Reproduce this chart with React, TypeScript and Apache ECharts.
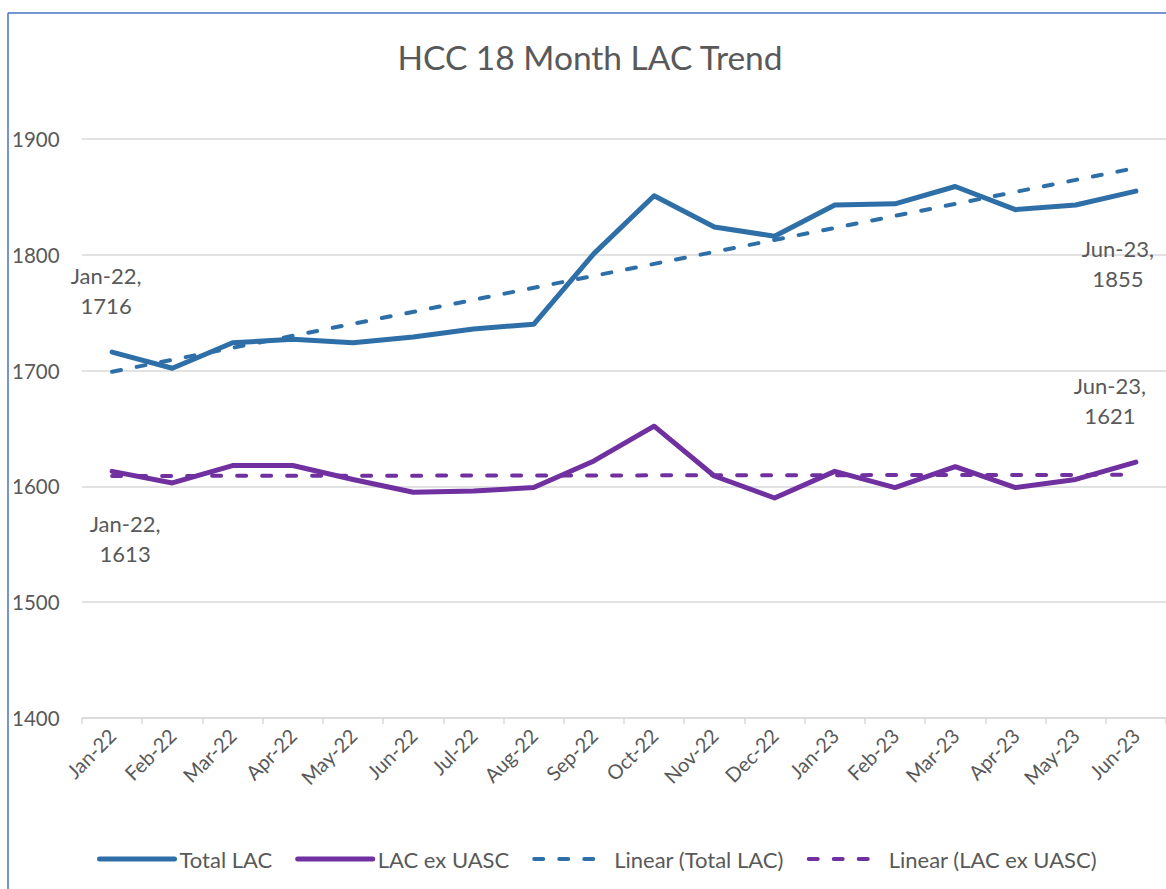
import React, { useEffect, useRef } from 'react';
import * as echarts from 'echarts';

const categories = [
  'Jan-22', 'Feb-22', 'Mar-22', 'Apr-22', 'May-22', 'Jun-22', 'Jul-22', 'Aug-22', 'Sep-22',
  'Oct-22', 'Nov-22', 'Dec-22', 'Jan-23', 'Feb-23', 'Mar-23', 'Apr-23', 'May-23', 'Jun-23',
];
const totalLAC = [1716, 1702, 1724, 1727, 1724, 1729, 1736, 1740, 1801, 1851, 1824, 1816, 1843, 1844, 1859, 1839, 1843, 1855];
const lacExUASC = [1613, 1603, 1618, 1618, 1606, 1595, 1596, 1599, 1622, 1652, 1609, 1590, 1613, 1599, 1617, 1599, 1606, 1621];
// Linear trendline endpoints (first and last month)
const trendTotalEnds = [1699, 1875];
const trendExEnds = [1609, 1610];
const yTicks = { min: 1400, max: 1900, interval: 100 };

const BLUE = '#2E6FA7';
const PURPLE = '#7030A0';
const GREY = '#595959';
const FONT = 'Lato';

export default function App() {
  const ref = useRef<HTMLDivElement>(null);
  useEffect(() => {
    const chart = echarts.init(ref.current!, null, { renderer: 'svg' });
    const last = categories.length - 1;
    const labelStyle = {
      show: true,
      position: 'inside',
      formatter: '{b},\n{c}',
      fontSize: 22,
      lineHeight: 30,
      color: GREY,
      fontFamily: FONT,
      align: 'center',
    };
    const withLabels = (arr: number[], firstOffset: number[], lastOffset: number[]) =>
      arr.map((v, i) => {
        if (i === 0) return { value: v, symbol: 'circle', symbolSize: 1, label: { ...labelStyle, offset: firstOffset } };
        if (i === last) return { value: v, symbol: 'circle', symbolSize: 1, label: { ...labelStyle, offset: lastOffset } };
        return v;
      });
    const trend = (ends: number[]) => categories.map((_, i) => (i === 0 ? ends[0] : i === last ? ends[1] : null));

    const option: any = {
      animation: false,
      backgroundColor: '#ffffff',
      textStyle: { fontFamily: FONT },
      graphic: [
        { type: 'line', shape: { x1: 8, y1: 13, x2: 8, y2: 889 }, style: { stroke: '#4472C4', lineWidth: 1.5 } },
        { type: 'line', shape: { x1: 8, y1: 13, x2: 1166, y2: 13 }, style: { stroke: '#4472C4', lineWidth: 1.5 } },
        {
          type: 'text', x: 590, y: 57,
          style: { text: 'HCC 18 Month LAC Trend', fill: GREY, fontSize: 33.5, fontFamily: FONT, textAlign: 'center', textVerticalAlign: 'middle' },
        },
      ],
      grid: { left: 82, right: 0, top: 139, bottom: 171, containLabel: false },
      legend: {
        top: 843,
        left: 92,
        itemWidth: 75,
        itemHeight: 22,
        itemGap: 23,
        textStyle: { fontSize: 22, color: GREY, fontFamily: FONT },
        lineStyle: { width: 'inherit', cap: 'round' },
        itemStyle: { opacity: 0, color: 'transparent', borderWidth: 0 },
        data: ['Total LAC', 'LAC ex UASC', 'Linear (Total LAC)', 'Linear (LAC ex UASC)'],
      },
      xAxis: {
        type: 'category',
        data: categories,
        boundaryGap: true,
        axisLine: { lineStyle: { color: '#D9D9D9', width: 1.5 } },
        axisTick: { show: true, length: 6, lineStyle: { color: '#D9D9D9', width: 1.5 } },
        axisLabel: { rotate: 45, fontSize: 20, color: GREY, fontFamily: FONT, margin: 14, interval: 0 },
      },
      yAxis: {
        type: 'value',
        min: yTicks.min,
        max: yTicks.max,
        interval: yTicks.interval,
        axisLine: { show: false },
        axisTick: { show: false },
        splitLine: { lineStyle: { color: '#D9D9D9', width: 1.5 } },
        axisLabel: {
          fontSize: 20.5, color: GREY, fontFamily: FONT, align: 'left', margin: 70,
          formatter: (v: number) => String(v),
        },
      },
      series: [
        {
          name: 'Total LAC',
          type: 'line',
          data: withLabels(totalLAC, [-6, -62], [-18, 72]),
          symbol: 'none',
          lineStyle: { color: BLUE, width: 5, cap: 'round', join: 'round' },
          itemStyle: { color: BLUE },
        },
        {
          name: 'LAC ex UASC',
          type: 'line',
          data: withLabels(lacExUASC, [13, 67], [-26, -62]),
          symbol: 'none',
          lineStyle: { color: PURPLE, width: 5, cap: 'round', join: 'round' },
          itemStyle: { color: PURPLE },
        },
        {
          name: 'Linear (Total LAC)',
          type: 'line',
          data: trend(trendTotalEnds),
          connectNulls: true,
          symbol: 'none',
          lineStyle: { color: BLUE, width: 4, type: [9, 16], cap: 'round' },
          itemStyle: { color: BLUE },
        },
        {
          name: 'Linear (LAC ex UASC)',
          type: 'line',
          data: trend(trendExEnds),
          connectNulls: true,
          symbol: 'none',
          lineStyle: { color: PURPLE, width: 4, type: [9, 16], cap: 'round' },
          itemStyle: { color: PURPLE },
        },
      ],
    };
    chart.setOption(option);
    return () => chart.dispose();
  }, []);
  return (
    <div
      ref={ref}
      style={{ position: 'fixed', left: 0, top: 0, width: 1166, height: 889, background: '#fff' }}
    />
  );
}
